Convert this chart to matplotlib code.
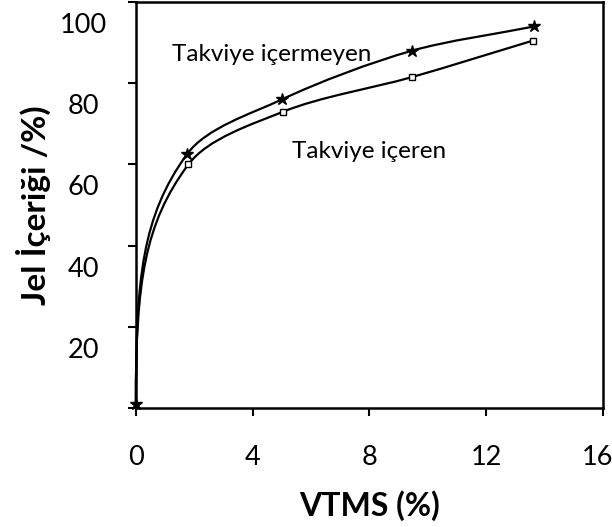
import numpy as np
import matplotlib
matplotlib.use("Agg")
import matplotlib.pyplot as plt
from matplotlib.path import Path
from matplotlib.patches import PathPatch
from matplotlib.transforms import ScaledTranslation

plt.rcParams['font.family'] = ['Lato', 'DejaVu Sans']

# Jel içeriği verileri
vtms = [0.0, 1.75, 5.0, 9.45, 13.65]
jel_takviyesiz = [1.0, 62.5, 76.0, 88.0, 94.0]
vtms_takviyeli = [0.0, 1.8, 5.05, 9.45, 13.6]
jel_takviyeli = [1.0, 60.0, 73.0, 81.5, 90.5]

x_ticks = [0, 4, 8, 12, 16]
y_ticks = [0, 20, 40, 60, 80, 100]
y_tick_labels = ["", "20", "40", "60", "80", "100"]


def smooth_path(xs, ys, sx, sy, k=0.3):
    # yumusak egri: her noktada komsu dogrultularin ortalamasi, ilk teget dik
    p = np.column_stack([np.array(xs) * sx, np.array(ys) * sy])
    n = len(p)
    seg = np.diff(p, axis=0)
    L = np.hypot(seg[:, 0], seg[:, 1])
    u = seg / L[:, None]
    d = np.zeros_like(p)
    d[0] = [0.0, 1.0]
    for i in range(1, n - 1):
        v = u[i - 1] + u[i]
        d[i] = v / np.hypot(*v)
    d[-1] = u[-1]
    verts = [p[0]]
    codes = [Path.MOVETO]
    for i in range(n - 1):
        kk = 0.5 if i == 0 else k
        verts += [p[i] + d[i] * L[i] * kk, p[i + 1] - d[i + 1] * L[i] * k,
                  p[i + 1]]
        codes += [Path.CURVE4] * 3
    verts = np.array(verts) / [sx, sy]
    return Path(verts, codes)


fig = plt.figure(figsize=(6.12, 5.27), dpi=100)
ax = fig.add_axes([0.222, 0.226, 0.763, 0.770])
ax.set_xlim(0, 16)
ax.set_ylim(0, 100)

sx, sy = 467 / 16, 406 / 100
for xs, ys in [(vtms, jel_takviyesiz), (vtms_takviyeli, jel_takviyeli)]:
    ax.add_patch(PathPatch(smooth_path(xs, ys, sx, sy), fc='none',
                           ec='black', lw=1.6, zorder=2, clip_on=False))

ax.plot(vtms, jel_takviyesiz, ls='none', marker='*', ms=9, color='black',
        zorder=3, clip_on=False)
ax.plot(vtms_takviyeli[1:], jel_takviyeli[1:], ls='none', marker='s', ms=5,
        mfc='white', mec='black', mew=1.0, zorder=3)

ax.text(4.65, 87, "Takviye içermeyen", fontsize=17.5, ha='center', va='center')
ax.text(8.0, 63.2, "Takviye içeren", fontsize=17.5, ha='center', va='center')

ax.set_xticks(x_ticks)
ax.set_yticks(y_ticks)
ax.set_yticklabels(y_tick_labels)
ax.tick_params(direction='out', length=6, width=1.5, labelsize=19.5)
ax.tick_params(axis='x', pad=21)
ax.tick_params(axis='y', pad=32)
for lab in ax.get_yticklabels():
    lab.set_horizontalalignment('center')
    lab.set_transform(lab.get_transform() +
                      ScaledTranslation(0, -0.21, fig.dpi_scale_trans))
last = ax.get_xticklabels()[-1]
last.set_transform(last.get_transform() +
                   ScaledTranslation(-0.05, 0, fig.dpi_scale_trans))
for sp in ax.spines.values():
    sp.set_linewidth(1.8)

ax.set_xlabel("VTMS (%)", fontsize=23, fontweight='bold', labelpad=14)
ax.set_ylabel("Jel İçeriği /%)", fontsize=24, fontweight='bold', labelpad=6)

fig.savefig("out.png", dpi=100)
